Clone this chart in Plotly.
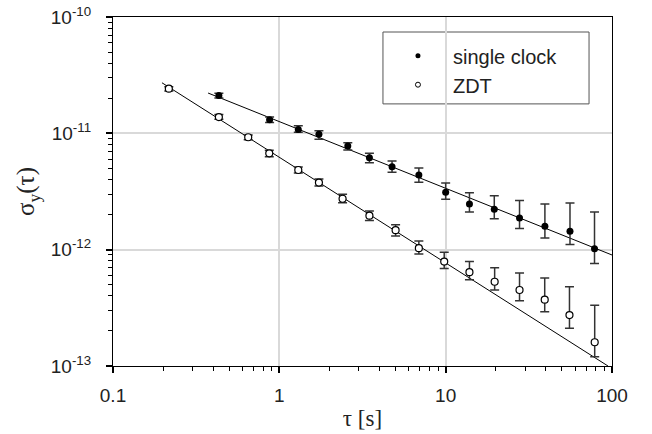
import plotly.graph_objects as go

# ---- data ----
tau_single = [0.433, 0.874, 1.30, 1.73, 2.58, 3.48, 4.76, 6.9, 10.0, 13.9, 19.6, 27.8, 39.5, 55.9, 78.5]
sig_single = [2.11e-11, 1.31e-11, 1.08e-11, 9.8e-12, 7.78e-12, 6.17e-12, 5.17e-12, 4.38e-12,
              3.11e-12, 2.47e-12, 2.22e-12, 1.87e-12, 1.59e-12, 1.44e-12, 1.02e-12]
up_single = [2.21e-11, 1.38e-11, 1.16e-11, 1.05e-11, 8.3e-12, 6.73e-12, 5.78e-12, 5.03e-12,
             3.74e-12, 3.09e-12, 2.91e-12, 2.64e-12, 2.47e-12, 2.52e-12, 2.11e-12]
lo_single = [2.01e-11, 1.24e-11, 1.02e-11, 8.9e-12, 7.2e-12, 5.6e-12, 4.62e-12, 3.79e-12,
             2.71e-12, 2.11e-12, 1.84e-12, 1.52e-12, 1.26e-12, 1.11e-12, 7.6e-13]

tau_zdt = [0.2166, 0.433, 0.650, 0.870, 1.30, 1.73, 2.40, 3.48, 5.0, 6.9, 9.8, 13.9, 19.7, 27.8, 39.4, 55.5, 78.7]
sig_zdt = [2.42e-11, 1.38e-11, 9.25e-12, 6.73e-12, 4.84e-12, 3.77e-12, 2.74e-12, 1.96e-12,
           1.47e-12, 1.03e-12, 7.9e-13, 6.4e-13, 5.3e-13, 4.5e-13, 3.72e-13, 2.74e-13, 1.60e-13]
up_zdt = [2.52e-11, 1.45e-11, 9.68e-12, 7.15e-12, 5.13e-12, 4.05e-12, 3.0e-12, 2.15e-12,
          1.64e-12, 1.19e-12, 9.5e-13, 7.9e-13, 7.0e-13, 6.3e-13, 5.7e-13, 4.8e-13, 3.32e-13]
lo_zdt = [2.31e-11, 1.32e-11, 8.81e-12, 6.3e-12, 4.56e-12, 3.53e-12, 2.53e-12, 1.78e-12,
          1.31e-12, 9.2e-13, 6.9e-13, 5.5e-13, 4.5e-13, 3.64e-13, 2.93e-13, 2.11e-13, 1.20e-13]

# fitted power-law lines (end points)
fit_tau_single = [0.373, 100]
fit_sig_single = [2.22e-11, 9.0e-13]
fit_tau_zdt = [0.197, 94.6]
fit_sig_zdt = [2.72e-11, 1.0e-13]

x_tickvals = [0.1, 1, 10, 100]
x_ticktext = ["0.1", "1", "10", "100"]
y_tickvals = [1e-13, 1e-12, 1e-11, 1e-10]
y_ticktext = ["10<sup>-13</sup>", "10<sup>-12</sup>", "10<sup>-11</sup>", "10<sup>-10</sup>"]

legend_names = ["single clock", "ZDT"]

# ---- figure ----
SANS = "Liberation Sans, Arial, sans-serif"
SERIF = "Times New Roman, Liberation Serif, DejaVu Serif, serif"

def err(s, u, l):
    return [a - b for a, b in zip(u, s)], [b - c for b, c in zip(s, l)]

ep_s, em_s = err(sig_single, up_single, lo_single)
ep_z, em_z = err(sig_zdt, up_zdt, lo_zdt)

fig = go.Figure()

fig.add_trace(go.Scatter(x=fit_tau_single, y=fit_sig_single, mode="lines",
                         line=dict(color="black", width=1), showlegend=False, hoverinfo="skip"))
fig.add_trace(go.Scatter(x=fit_tau_zdt, y=fit_sig_zdt, mode="lines",
                         line=dict(color="black", width=1), showlegend=False, hoverinfo="skip"))

errstyle = dict(type="data", symmetric=False, color="#333333", thickness=1.5, width=4.5)

fig.add_trace(go.Scatter(x=tau_single, y=sig_single, mode="markers",
                         marker=dict(symbol="circle", size=7, color="black"),
                         error_y=dict(array=ep_s, arrayminus=em_s, **errstyle),
                         showlegend=False))
fig.add_trace(go.Scatter(x=tau_zdt, y=sig_zdt, mode="markers",
                         marker=dict(symbol="circle", size=7, color="white",
                                     line=dict(color="black", width=1.2)),
                         error_y=dict(array=ep_z, arrayminus=em_z, **errstyle),
                         showlegend=False))

# legend entries (small symbols as in the reference)
fig.add_trace(go.Scatter(x=[None], y=[None], mode="markers", name=legend_names[0],
                         marker=dict(symbol="circle", size=5, color="black")))
fig.add_trace(go.Scatter(x=[None], y=[None], mode="markers", name=legend_names[1],
                         marker=dict(symbol="circle", size=5, color="white",
                                     line=dict(color="black", width=1))))

axis_common = dict(
    showline=True, linecolor="black", linewidth=1.2, mirror=True,
    ticks="outside", ticklen=6, tickwidth=1.5, tickcolor="black",
    showgrid=True, gridcolor="#d9d9d9", gridwidth=1.5,
    zeroline=False,
    tickfont=dict(family=SANS, size=19, color="#222222"),
    minor=dict(tickmode="linear", dtick="D1", ticks="outside", ticklen=4,
               tickwidth=1.2, tickcolor="black", showgrid=False),
)

fig.update_xaxes(type="log", range=[-1, 2], tickmode="array",
                 tickvals=x_tickvals, ticktext=x_ticktext,
                 ticklabelstandoff=6,
                 title=dict(text="τ [s]", font=dict(family=SERIF, size=23, color="#222222"),
                            standoff=4),
                 **axis_common)
fig.update_yaxes(type="log", range=[-13, -10], tickmode="array",
                 tickvals=y_tickvals, ticktext=y_ticktext,
                 ticklabelstandoff=11,
                 title=dict(text="σ<sub>y</sub>(τ)", font=dict(family=SERIF, size=25, color="#222222"),
                            standoff=8),
                 **axis_common)

fig.update_layout(
    width=652, height=434,
    margin=dict(l=113, r=40, t=17, b=68, autoexpand=False),
    paper_bgcolor="white", plot_bgcolor="white",
    font=dict(family=SANS),
    legend=dict(x=0.541, y=0.945, xanchor="left", yanchor="top",
                bgcolor="rgba(0,0,0,0)", borderwidth=0,
                font=dict(family=SANS, size=20, color="#222222"),
                itemwidth=60, tracegroupgap=0),
    shapes=[dict(type="rect", xref="paper", yref="paper",
                 x0=0.541, x1=0.954, y0=0.751, y1=0.957,
                 line=dict(color="#555555", width=1), fillcolor="white", layer="below")],
)

fig.write_html("out.html")
